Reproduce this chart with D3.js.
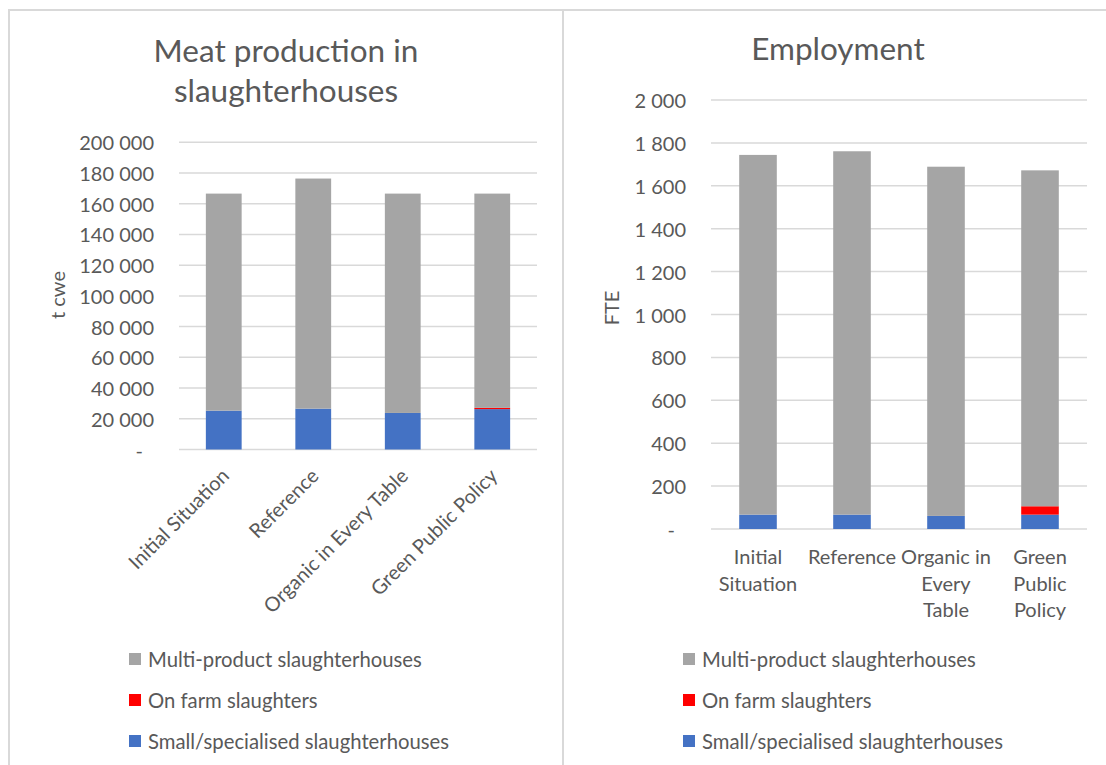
<!DOCTYPE html>
<html>
<head>
<meta charset="utf-8">
<script src="https://cdn.jsdelivr.net/npm/d3@7"></script>
<style>
  body { margin: 0; background: #fff; }
  svg { display: block; }
  text { font-family: Lato, "Open Sans", sans-serif; fill: #595959; }
</style>
</head>
<body>
<svg id="chart" width="1106" height="765"></svg>
<script>
// ---- data ----
const categories = ["Initial Situation", "Reference", "Organic in Every Table", "Green Public Policy"];
const categoryLines = [["Initial", "Situation"], ["Reference"], ["Organic in", "Every", "Table"], ["Green", "Public", "Policy"]];
const seriesNames = ["Small/specialised slaughterhouses", "On farm slaughters", "Multi-product slaughterhouses"];
const seriesColors = ["#4472C4", "#FF0000", "#A5A5A5"];

// Meat production in slaughterhouses (t cwe)
const meatSmall = [25300, 26600, 23800, 26300];
const meatOnFarm = [0, 0, 0, 800];
const meatMulti = [141300, 149800, 142800, 139500];
const meatTicks = [0, 20000, 40000, 60000, 80000, 100000, 120000, 140000, 160000, 180000, 200000];

// Employment (FTE)
const jobsSmall = [67, 67, 61, 67];
const jobsOnFarm = [0, 0, 0, 39];
const jobsMulti = [1677, 1694, 1628, 1566];
const jobsTicks = [0, 200, 400, 600, 800, 1000, 1200, 1400, 1600, 1800, 2000];

// ---- drawing ----
const svg = d3.select("#chart");
const GRID = "#D9D9D9";

// panel frames
svg.append("rect").attr("x", 9).attr("y", 10).attr("width", 554).attr("height", 780)
  .attr("fill", "none").attr("stroke", GRID).attr("stroke-width", 2);
svg.append("rect").attr("x", 563).attr("y", 10).attr("width", 560).attr("height", 780)
  .attr("fill", "none").attr("stroke", GRID).attr("stroke-width", 2);

const fmt = v => v === 0 ? "-" : d3.format(",")(v).replace(/,/g, " ");

function drawPanel(cfg) {
  const g = svg.append("g");
  const x = d3.scaleBand().domain(categories).range([cfg.x0, cfg.x1])
    .paddingInner(0.6).paddingOuter(0.3);
  const y = d3.scaleLinear().domain([0, d3.max(cfg.ticks)]).range([cfg.yBase, cfg.yTop]);

  // gridlines
  g.append("g").selectAll("line").data(cfg.ticks).join("line")
    .attr("x1", cfg.x0).attr("x2", cfg.x1)
    .attr("y1", d => y(d)).attr("y2", d => y(d))
    .attr("stroke", GRID).attr("stroke-width", 1.5);

  // y tick labels
  g.append("g").selectAll("text").data(cfg.ticks).join("text")
    .attr("x", d => d === 0 ? cfg.labelX - 11 : cfg.labelX)
    .attr("y", d => y(d))
    .attr("text-anchor", "end").attr("dominant-baseline", "central")
    .style("font-size", "20px")
    .text(fmt);

  // stacked bars
  const rows = categories.map((c, i) => ({
    cat: c,
    s0: cfg.series[0][i], s1: cfg.series[1][i], s2: cfg.series[2][i]
  }));
  const stack = d3.stack().keys(["s0", "s1", "s2"])(rows);
  g.append("g").selectAll("g").data(stack).join("g")
    .attr("fill", (d, i) => seriesColors[i])
    .selectAll("rect").data(d => d).join("rect")
    .attr("x", d => x(d.data.cat))
    .attr("width", x.bandwidth())
    .attr("y", d => y(d[1]))
    .attr("height", d => y(d[0]) - y(d[1]));

  // title
  const t = g.append("text").attr("text-anchor", "middle")
    .style("font-size", "31.5px").style("font-weight", 400);
  cfg.title.forEach((line, i) => {
    t.append("tspan").attr("x", cfg.titleX).attr("y", cfg.titleY + i * 40).text(line);
  });

  // y axis title
  g.append("text")
    .attr("transform", `translate(${cfg.axisTitleX},${cfg.axisTitleY}) rotate(-90)`)
    .attr("text-anchor", "middle").attr("dominant-baseline", "central")
    .style("font-size", "20px")
    .text(cfg.axisTitle);

  // category labels
  if (cfg.rotated) {
    g.append("g").selectAll("text").data(categories).join("text")
      .attr("transform", d => `translate(${x(d) + x.bandwidth() / 2 + 1},${cfg.yBase + 22}) rotate(-45)`)
      .attr("text-anchor", "end").attr("dominant-baseline", "central")
      .style("font-size", "20px")
      .text(d => d);
  } else {
    const lab = g.append("g").selectAll("text").data(categories).join("text")
      .attr("text-anchor", "middle").style("font-size", "20px");
    lab.each(function (d, i) {
      const cx = x(d) + x.bandwidth() / 2;
      d3.select(this).selectAll("tspan").data(categoryLines[i]).join("tspan")
        .attr("x", cx).attr("y", (l, j) => cfg.yBase + 27 + j * 26.5)
        .attr("dominant-baseline", "central")
        .text(l => l);
    });
  }

  // legend (top to bottom: reverse of stacking order)
  const legendOrder = [2, 1, 0];
  const lg = g.append("g");
  legendOrder.forEach((s, i) => {
    const cy = cfg.legendY + i * 41;
    lg.append("rect").attr("x", cfg.legendX).attr("y", cy - 6).attr("width", 12).attr("height", 12)
      .attr("fill", seriesColors[s]);
    lg.append("text").attr("x", cfg.legendX + 19).attr("y", cy)
      .attr("dominant-baseline", "central").style("font-size", "20.3px")
      .text(seriesNames[s]);
  });
}

drawPanel({
  title: ["Meat production in", "slaughterhouses"], titleX: 286, titleY: 62,
  x0: 179, x1: 537, yTop: 142.3, yBase: 449.5, labelX: 154,
  ticks: meatTicks, series: [meatSmall, meatOnFarm, meatMulti],
  axisTitle: "t cwe", axisTitleX: 57, axisTitleY: 295,
  rotated: true, legendX: 129, legendY: 659
});

drawPanel({
  title: ["Employment"], titleX: 838, titleY: 60,
  x0: 711, x1: 1087, yTop: 100, yBase: 529, labelX: 686,
  ticks: jobsTicks, series: [jobsSmall, jobsOnFarm, jobsMulti],
  axisTitle: "FTE", axisTitleX: 610.5, axisTitleY: 308,
  rotated: false, legendX: 683, legendY: 659
});
</script>
</body>
</html>
